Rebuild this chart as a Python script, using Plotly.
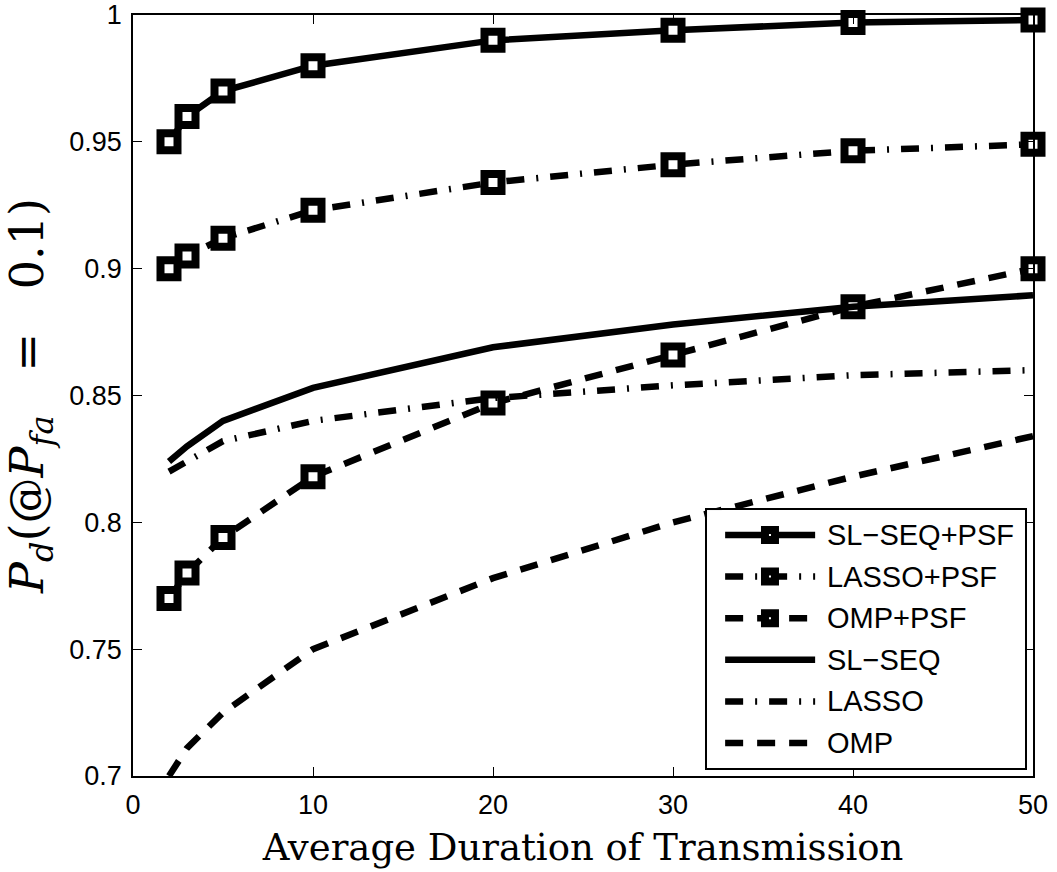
import plotly.graph_objects as go

# Average transmission duration (x) and detection probability per method
duration = [2, 3, 5, 10, 20, 30, 40, 50]

sl_seq_psf = [0.950, 0.960, 0.970, 0.980, 0.990, 0.994, 0.997, 0.998]
lasso_psf = [0.900, 0.905, 0.912, 0.923, 0.934, 0.941, 0.9465, 0.949]
omp_psf = [0.770, 0.780, 0.794, 0.818, 0.847, 0.866, 0.885, 0.900]
sl_seq = [0.824, 0.830, 0.840, 0.853, 0.869, 0.878, 0.885, 0.8895]
lasso = [0.820, 0.824, 0.832, 0.840, 0.849, 0.854, 0.858, 0.860]
omp = [0.700, 0.711, 0.725, 0.750, 0.778, 0.800, 0.818, 0.834]

names = ["SL\u2212SEQ+PSF", "LASSO+PSF", "OMP+PSF", "SL\u2212SEQ", "LASSO", "OMP"]
series = [sl_seq_psf, lasso_psf, omp_psf, sl_seq, lasso, omp]

x_ticks = [0, 10, 20, 30, 40, 50]
y_ticks = [0.7, 0.75, 0.8, 0.85, 0.9, 0.95, 1.0]
y_ticktext = ["0.7", "0.75", "0.8", "0.85", "0.9", "0.95", "1"]

DASHDOT = "18px,12px,2px,12px"
DASHED = "18px,14px"
dashes = ["solid", DASHDOT, DASHED, "solid", DASHDOT, DASHED]
has_marker = [True, True, True, False, False, False]

LW = 6.5
sans = "Liberation Sans, Arial, sans-serif"
serif = "DejaVu Serif, serif"

fig = go.Figure()

for name, ys, dash, mk in zip(names, series, dashes, has_marker):
    fig.add_trace(go.Scatter(
        x=duration, y=ys, name=name, showlegend=False,
        mode="lines+markers" if mk else "lines",
        line=dict(color="black", width=LW, dash=dash),
        marker=dict(symbol="square", size=17, color="white",
                    line=dict(color="black", width=8)),
        cliponaxis=False,
        xaxis="x", yaxis="y",
    ))

# Legend drawn as a small inset subplot so the sample lines keep full length
row_gap = 41.6
rows = [25 + i * row_gap for i in range(len(names))]
for name, dash, mk, ry in zip(names, dashes, has_marker, rows):
    fig.add_trace(go.Scatter(
        x=[0.057, 0.340], y=[ry, ry], mode="lines", showlegend=False,
        line=dict(color="black", width=LW, dash=dash),
        xaxis="x2", yaxis="y2", hoverinfo="skip",
    ))
    if mk:
        fig.add_trace(go.Scatter(
            x=[0.198], y=[ry], mode="markers", showlegend=False,
            marker=dict(symbol="square", size=10, color="white",
                        line=dict(color="black", width=8)),
            xaxis="x2", yaxis="y2", hoverinfo="skip",
        ))
    fig.add_annotation(
        x=0.372, y=ry, xref="x2", yref="y2", text=name, showarrow=False,
        xanchor="left", yanchor="middle",
        font=dict(family=sans, size=29, color="black"),
    )

axis_common = dict(
    showline=True, linecolor="black", linewidth=1.5, mirror="ticks",
    ticks="inside", ticklen=9, tickwidth=1.2, tickcolor="black",
    showgrid=False, zeroline=False, automargin=False,
    tickfont=dict(family=sans, size=27, color="black"),
)

fig.update_layout(
    width=1057, height=872,
    margin=dict(l=133, r=24, t=15, b=96),
    paper_bgcolor="white", plot_bgcolor="white",
    showlegend=False,
    xaxis=dict(
        range=[0, 50], tickvals=x_ticks, domain=[0, 1],
        title=dict(text="Average Duration of Transmission",
                   font=dict(family=serif, size=37, color="black")),
        ticklabelstandoff=4,
        **axis_common,
    ),
    yaxis=dict(
        range=[0.7, 1.0], tickvals=y_ticks, ticktext=y_ticktext, domain=[0, 1],
        title=dict(
            text="<i>P</i><sub><i>d</i></sub>(@<i>P</i><sub><i>fa</i></sub>&nbsp;&nbsp;&nbsp;=&nbsp;&nbsp;&nbsp;0.1)",
            font=dict(family=serif, size=46, color="black"),
        ),
        ticklabelstandoff=4,
        **axis_common,
    ),
    xaxis2=dict(
        domain=[0.6378, 0.9911], range=[0, 1], anchor="y2",
        showticklabels=False, ticks="", showgrid=False, zeroline=False,
        showline=True, mirror=True, linecolor="black", linewidth=1.5,
        fixedrange=True,
    ),
    yaxis2=dict(
        domain=[0.0105, 0.3495], range=[258, 0], anchor="x2",
        showticklabels=False, ticks="", showgrid=False, zeroline=False,
        showline=True, mirror=True, linecolor="black", linewidth=1.5,
        fixedrange=True,
    ),
)

fig.write_html("out.html")
